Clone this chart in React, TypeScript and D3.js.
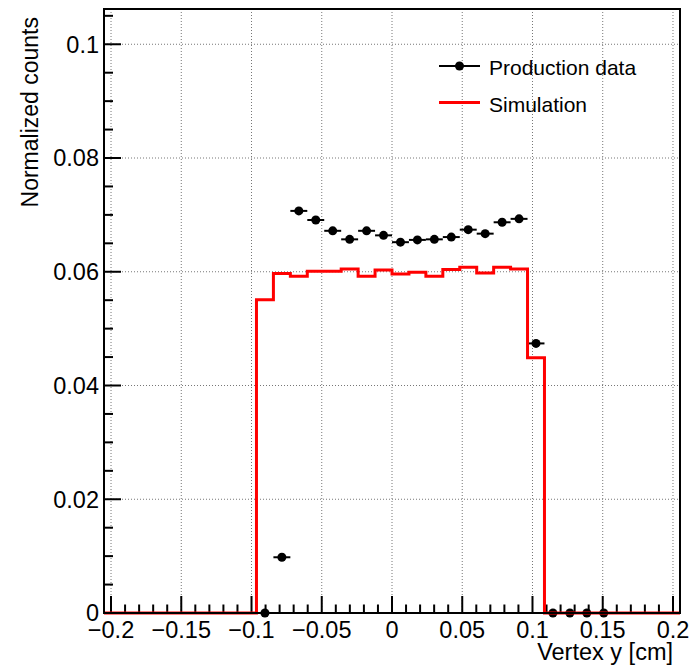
import React from "react";
import * as d3 from "d3";

// Histogram binning: 34 bins on [-0.205, 0.205]
const xRange: [number, number] = [-0.205, 0.205];
const nBins = 34;

// Simulation (red histogram), one value per bin
const simValues: number[] = [
  0, 0, 0, 0, 0, 0, 0, 0, 0,
  0.0551, 0.0597, 0.0592, 0.0601, 0.0601, 0.0605, 0.0592, 0.0603, 0.0596,
  0.0599, 0.0592, 0.0604, 0.0608, 0.0598, 0.0608, 0.0605, 0.0449,
  0, 0, 0, 0, 0, 0, 0, 0,
];

// Production data (points), null = not drawn
const dataValues: (number | null)[] = [
  null, null, null, null, null, null, null, null, null,
  0, 0.0098,
  0.0707, 0.0691, 0.0672, 0.0657, 0.0672, 0.0664, 0.0652, 0.0656, 0.0657,
  0.0661, 0.0674, 0.0667, 0.0687, 0.0693,
  0.0474,
  0, 0, 0, 0,
  null, null, null, null,
];

const yMax = 0.1062;
const xMajorTicks = [-0.2, -0.15, -0.1, -0.05, 0, 0.05, 0.1, 0.15, 0.2];
const xTickLabels = ["\u22120.2", "\u22120.15", "\u22120.1", "\u22120.05", "0", "0.05", "0.1", "0.15", "0.2"];
const yMajorTicks = [0, 0.02, 0.04, 0.06, 0.08, 0.1];
const yTickLabels = ["0", "0.02", "0.04", "0.06", "0.08", "0.1"];
const legendLabels = ["Production data", "Simulation"];
const xTitle = "Vertex y [cm]";
const yTitle = "Normalized counts";

const W = 689, H = 667;
const L = 104, R = 680, T = 9, B = 613;
const FONT = "'Liberation Sans', Arial, Helvetica, sans-serif";

export default function App() {
  const x = d3.scaleLinear().domain(xRange).range([L, R]);
  const y = d3.scaleLinear().domain([0, yMax]).range([B, T]);
  const bw = (xRange[1] - xRange[0]) / nBins;
  const edge = (i: number) => xRange[0] + i * bw;

  const xMinor = d3.range(-0.2, 0.2001, 0.01).map((v) => +v.toFixed(3));
  const yMinor = d3.range(0, yMax, 0.005).map((v) => +v.toFixed(4));

  const histPts: [number, number][] = simValues.map((v, i) => [edge(i), v]);
  histPts.push([edge(nBins), simValues[nBins - 1]]);
  const histPath = d3
    .line<[number, number]>()
    .x((d) => x(d[0]))
    .y((d) => y(d[1]))
    .curve(d3.curveStepAfter)(histPts) as string;

  const grid = "#777";

  return (
    <svg width={W} height={H} style={{ position: "absolute", left: 0, top: 0, background: "#fff" }} fontFamily={FONT}>
      <rect x={0} y={0} width={W} height={H} fill="#fff" />
      {/* grid */}
      {xMajorTicks.map((t, i) => (
        <line key={"gx" + i} x1={x(t)} x2={x(t)} y1={T} y2={B} stroke={grid} strokeWidth={1} strokeDasharray="1 2" />
      ))}
      {yMajorTicks.slice(1).map((t, i) => (
        <line key={"gy" + i} x1={L} x2={R} y1={y(t)} y2={y(t)} stroke={grid} strokeWidth={1} strokeDasharray="1 2" />
      ))}
      {/* ticks */}
      {xMinor.map((t, i) => {
        const major = xMajorTicks.some((m) => Math.abs(m - t) < 1e-6);
        return <line key={"tx" + i} x1={x(t)} x2={x(t)} y1={B} y2={B - (major ? 17 : 8.5)} stroke="#000" strokeWidth={2} />;
      })}
      {yMinor.map((t, i) => {
        const major = yMajorTicks.some((m) => Math.abs(m - t) < 1e-6);
        return <line key={"ty" + i} x1={L} x2={L + (major ? 17 : 9)} y1={y(t)} y2={y(t)} stroke="#000" strokeWidth={2} />;
      })}
      {/* data points */}
      {dataValues.map((v, i) =>
        v === null ? null : (
          <g key={"d" + i}>
            <line x1={x(edge(i))} x2={x(edge(i + 1))} y1={y(v)} y2={y(v)} stroke="#000" strokeWidth={2} />
            <circle cx={x(edge(i) + bw / 2)} cy={y(v)} r={4.5} fill="#000" />
          </g>
        )
      )}
      {/* simulation histogram */}
      <path d={histPath} fill="none" stroke="#ff0000" strokeWidth={3} />
      {/* frame */}
      <rect x={L} y={T} width={R - L} height={B - T} fill="none" stroke="#000" strokeWidth={2} />
      {/* tick labels */}
      {xMajorTicks.map((t, i) => (
        <text key={"lx" + i} x={x(t)} y={638} textAnchor="middle" fontSize={23.5} fill="#000">
          {xTickLabels[i]}
        </text>
      ))}
      {yMajorTicks.map((t, i) => (
        <text key={"ly" + i} x={99} y={y(t) + 8.3} textAnchor="end" fontSize={23.5} fill="#000">
          {yTickLabels[i]}
        </text>
      ))}
      {/* titles */}
      <text x={673} y={660} textAnchor="end" fontSize={23.5} fill="#000">
        {xTitle}
      </text>
      <text transform={`translate(38,17) rotate(-90)`} textAnchor="end" fontSize={23} fill="#000">
        {yTitle}
      </text>
      {/* legend */}
      <line x1={439} x2={480} y1={66} y2={66} stroke="#000" strokeWidth={2} />
      <circle cx={459.5} cy={66} r={4.5} fill="#000" />
      <text x={489} y={75} fontSize={21} fill="#000">{legendLabels[0]}</text>
      <line x1={439} x2={480} y1={102.5} y2={102.5} stroke="#ff0000" strokeWidth={3} />
      <text x={489} y={111.5} fontSize={21} fill="#000">{legendLabels[1]}</text>
    </svg>
  );
}
